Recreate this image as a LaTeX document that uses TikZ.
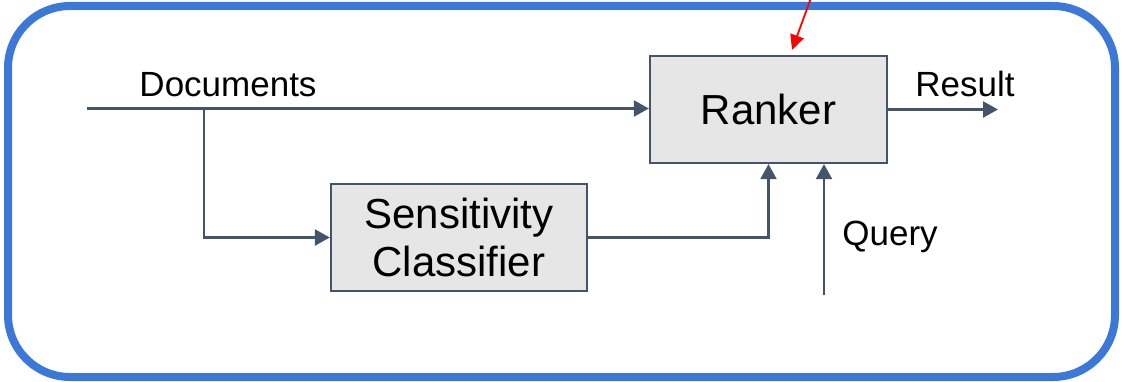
\documentclass[tikz,border=0pt]{standalone}
\usepackage{fontspec}
\setmainfont{Liberation Sans}
\usetikzlibrary{arrows.meta}

\definecolor{frameblue}{HTML}{3C78D8}
\definecolor{slate}{HTML}{44546A}
\definecolor{boxgray}{HTML}{E6E6E6}

\tikzset{
  block/.style={draw=slate, line width=2.3pt, fill=boxgray, rectangle,
    inner sep=0pt, align=center,
    font=\fontsize{42}{48}\selectfont},
  flow/.style={draw=slate, line width=2.3pt,
    -{Triangle[length=15pt,width=16pt]}},
  lbl/.style={inner sep=0pt, anchor=base, font=\fontsize{35}{42}\selectfont},
}

\begin{document}
\begin{tikzpicture}[x=1pt, y=-1pt]
  \useasboundingbox (0,0) rectangle (1122,382);

  % outer frame
  \draw[frameblue, line width=8pt, rounded corners=62pt]
    (8,6) rectangle (1115,377);

  % blocks
  \node[block, minimum width=237pt, minimum height=107pt] (ranker)
    at (768.5,109.5) {\raisebox{-2pt}{Ranker}};
  \node[block, minimum width=256pt, minimum height=107pt] (classifier)
    at (459,237.5) {Sensitivity\\Classifier};

  % free ends and junctions
  \coordinate (docs) at (87,108.5);
  \coordinate (split) at (204,108.5);
  \coordinate (result) at (998,109.5);
  \coordinate (query) at (824,295);
  \coordinate (redstart) at (811,-2);
  \coordinate (redtip) at (792,50);

  % connectors
  \draw[flow] (docs) -- (docs -| ranker.west);
  \draw[flow] (split) |- (classifier.west);
  \draw[flow] (classifier.east) -| (ranker.south);
  \draw[flow] (query) -- (query |- ranker.south);
  \draw[flow] (ranker.east) -- (result);
  \draw[red, line width=1.8pt, -{Triangle[length=15pt,width=14pt]}]
    (redstart) -- (redtip);

  % labels
  \node[lbl] (doclabel) at (228,97) {Documents};
  \node[lbl] (reslabel) at (965,97) {Result};
  \node[lbl] (querylabel) at (890,246) {Query};
\end{tikzpicture}
\end{document}
